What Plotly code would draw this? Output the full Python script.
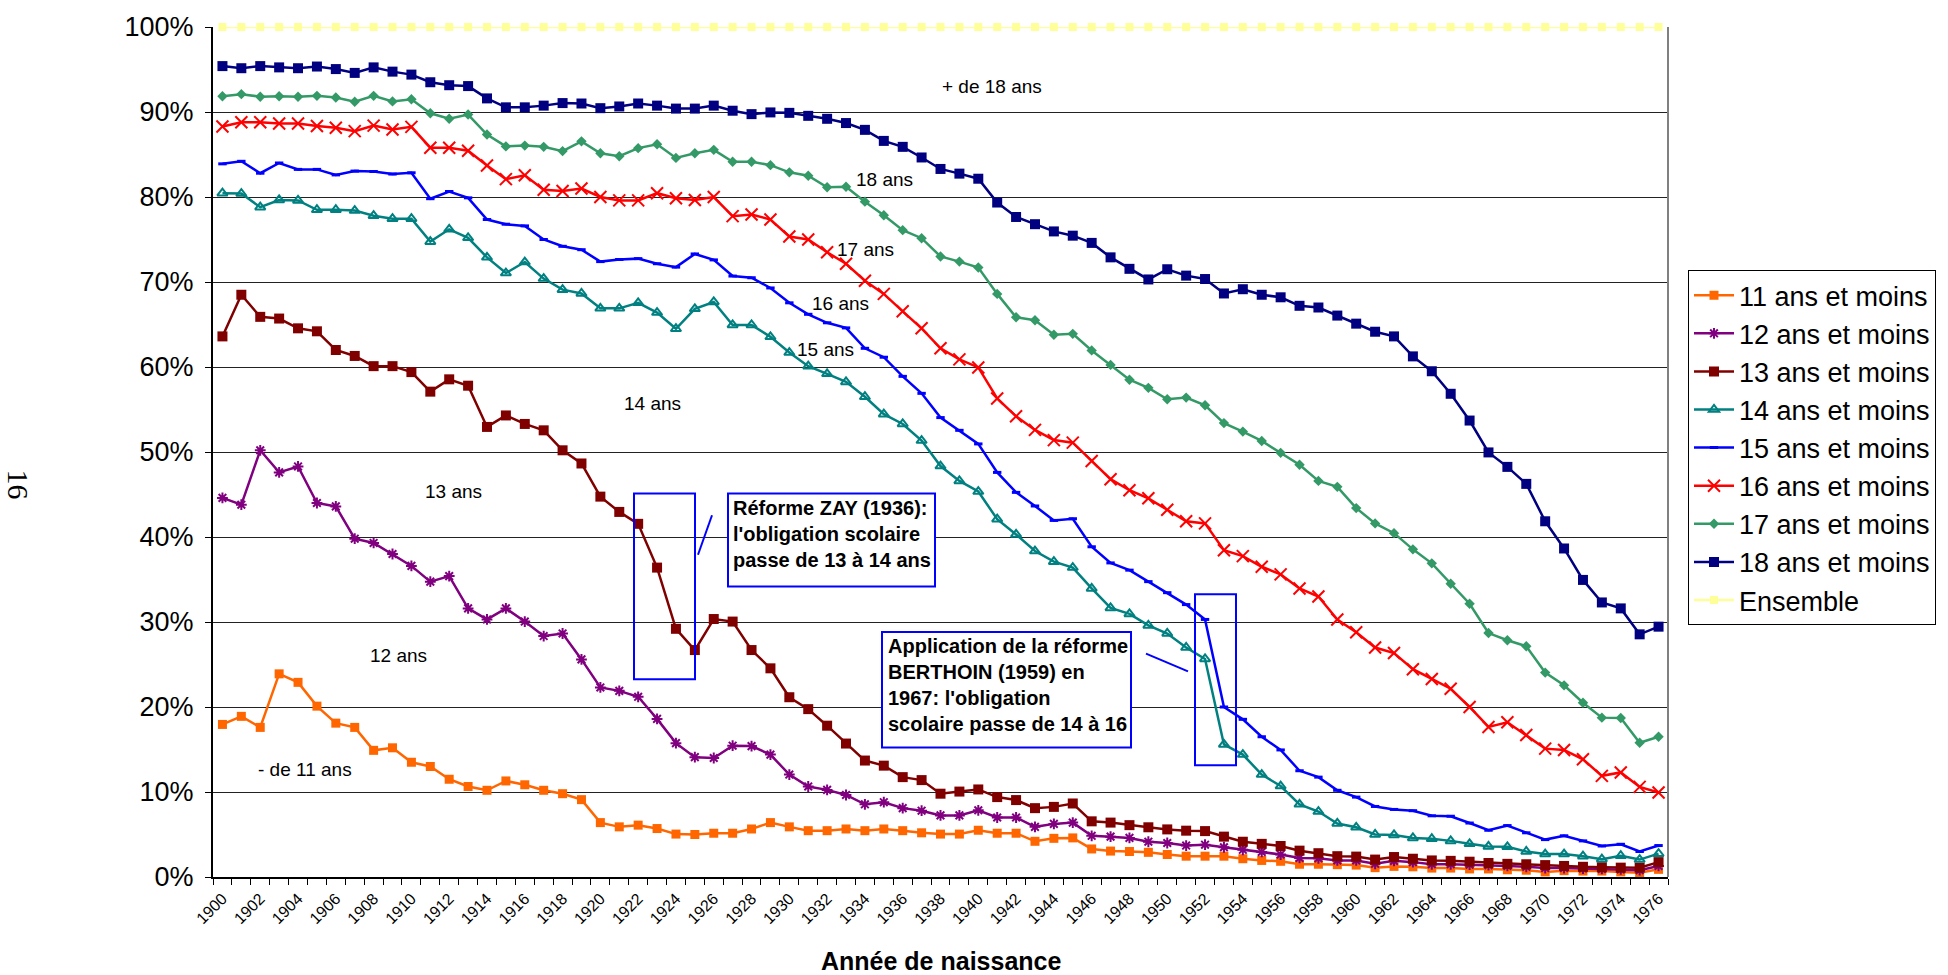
import plotly.graph_objects as go

# ---------------- data ----------------
years = list(range(1900, 1977))
tick_years = list(range(1900, 1977, 2))
tick_labels = [str(y) for y in tick_years]
y_ticks = [0, 10, 20, 30, 40, 50, 60, 70, 80, 90, 100]
y_tick_labels = ["0%", "10%", "20%", "30%", "40%", "50%", "60%", "70%", "80%", "90%", "100%"]

s11 = [17.95, 18.9, 17.6, 23.9, 22.9, 20.1, 18.1, 17.6, 14.9, 15.2,
       13.5, 13.0, 11.5, 10.65, 10.2, 11.3, 10.85, 10.2, 9.8, 9.1,
       6.4, 5.9, 6.1, 5.7, 5.05, 5.0, 5.15, 5.15, 5.65, 6.4,
       5.9, 5.45, 5.45, 5.65, 5.45, 5.65, 5.45, 5.2, 5.05, 5.05,
       5.5, 5.15, 5.15, 4.2, 4.55, 4.6, 3.3, 3.05, 3.0, 2.9,
       2.65, 2.45, 2.45, 2.45, 2.15, 1.95, 1.85, 1.5, 1.5, 1.45,
       1.4, 1.1, 1.25, 1.2, 1.05, 1.05, 0.95, 0.95, 0.85, 0.8,
       0.6, 0.75, 0.7, 0.7, 0.6, 0.5, 0.9]

s12 = [44.6, 43.8, 50.2, 47.6, 48.3, 44.0, 43.6, 39.8, 39.3, 38.0,
       36.6, 34.75, 35.4, 31.6, 30.3, 31.6, 30.05, 28.35, 28.65, 25.6,
       22.3, 21.9, 21.2, 18.6, 15.75, 14.1, 14.0, 15.45, 15.4, 14.4,
       12.05, 10.65, 10.25, 9.65, 8.55, 8.8, 8.1, 7.8, 7.25, 7.25,
       7.85, 7.0, 7.0, 5.9, 6.25, 6.4, 4.85, 4.75, 4.6, 4.15,
       4.0, 3.7, 3.8, 3.5, 3.2, 2.95, 2.65, 2.25, 2.2, 1.95,
       1.95, 1.55, 1.9, 1.75, 1.5, 1.5, 1.45, 1.4, 1.3, 1.2,
       1.05, 1.05, 1.0, 0.95, 0.9, 0.8, 1.3]

s13 = [63.6, 68.5, 65.9, 65.7, 64.55, 64.2, 62.0, 61.3, 60.1, 60.1,
       59.4, 57.1, 58.55, 57.8, 52.95, 54.3, 53.3, 52.55, 50.2, 48.65,
       44.75, 42.95, 41.55, 36.4, 29.2, 26.7, 30.35, 30.05, 26.7, 24.55,
       21.15, 19.75, 17.8, 15.7, 13.7, 13.1, 11.75, 11.4, 9.8, 10.05,
       10.3, 9.4, 9.05, 8.1, 8.25, 8.65, 6.55, 6.4, 6.1, 5.85,
       5.6, 5.45, 5.4, 4.75, 4.15, 3.9, 3.65, 3.1, 2.8, 2.45,
       2.4, 2.05, 2.35, 2.15, 1.95, 1.9, 1.8, 1.65, 1.55, 1.5,
       1.4, 1.3, 1.2, 1.15, 1.1, 1.1, 1.75]

s14 = [80.45, 80.4, 78.8, 79.65, 79.6, 78.5, 78.5, 78.4, 77.8, 77.45,
       77.45, 74.75, 76.2, 75.2, 72.9, 71.05, 72.35, 70.4, 69.1, 68.65,
       66.9, 66.9, 67.55, 66.4, 64.5, 66.85, 67.65, 64.95, 64.95, 63.55,
       61.7, 60.1, 59.2, 58.25, 56.5, 54.45, 53.3, 51.35, 48.35, 46.6,
       45.35, 42.1, 40.3, 38.35, 37.1, 36.4, 33.95, 31.65, 30.95, 29.6,
       28.65, 27.0, 25.65, 15.6, 14.4, 12.05, 10.7, 8.55, 7.7, 6.3,
       5.85, 5.0, 4.95, 4.6, 4.5, 4.25, 3.9, 3.6, 3.55, 3.0,
       2.7, 2.7, 2.45, 2.1, 2.5, 2.05, 2.75]

s15 = [83.9, 84.2, 82.8, 84.0, 83.25, 83.25, 82.6, 83.05, 83.0, 82.7,
       82.85, 79.8, 80.65, 79.9, 77.35, 76.8, 76.6, 75.0, 74.2, 73.8,
       72.4, 72.65, 72.75, 72.15, 71.75, 73.3, 72.6, 70.7, 70.5, 69.3,
       67.55, 66.2, 65.2, 64.6, 62.2, 61.15, 58.9, 56.9, 54.05, 52.55,
       50.95, 47.6, 45.25, 43.65, 41.95, 42.15, 38.85, 36.95, 36.1, 34.75,
       33.45, 32.05, 30.3, 20.0, 18.55, 16.5, 14.95, 12.5, 11.75, 10.2,
       9.4, 8.3, 7.95, 7.8, 7.2, 7.15, 6.35, 5.5, 6.05, 5.2,
       4.4, 4.85, 4.25, 3.65, 3.85, 3.0, 3.7]

s16 = [88.3, 88.8, 88.8, 88.65, 88.65, 88.35, 88.15, 87.75, 88.4, 87.95,
       88.25, 85.8, 85.8, 85.45, 83.7, 82.1, 82.55, 80.85, 80.7, 81.0,
       80.0, 79.6, 79.6, 80.45, 79.85, 79.65, 80.0, 77.75, 77.95, 77.35,
       75.35, 75.0, 73.5, 72.15, 70.15, 68.6, 66.55, 64.55, 62.2, 60.9,
       59.95, 56.3, 54.2, 52.6, 51.4, 51.1, 48.95, 46.8, 45.5, 44.55,
       43.2, 41.85, 41.6, 38.45, 37.75, 36.5, 35.6, 33.95, 33.0, 30.3,
       28.8, 27.0, 26.35, 24.45, 23.3, 22.15, 20.0, 17.65, 18.2, 16.7,
       15.1, 14.95, 13.85, 11.9, 12.3, 10.6, 9.95]

s17 = [91.85, 92.1, 91.8, 91.85, 91.8, 91.9, 91.7, 91.2, 91.9, 91.25,
       91.5, 89.85, 89.2, 89.7, 87.35, 85.95, 86.05, 85.9, 85.4, 86.55,
       85.15, 84.8, 85.75, 86.2, 84.6, 85.15, 85.55, 84.15, 84.15, 83.75,
       82.9, 82.5, 81.15, 81.2, 79.45, 77.85, 76.1, 75.15, 73.0, 72.4,
       71.7, 68.6, 65.85, 65.5, 63.8, 63.9, 61.95, 60.25, 58.5, 57.55,
       56.2, 56.4, 55.5, 53.4, 52.4, 51.3, 49.9, 48.5, 46.6, 45.9,
       43.4, 41.6, 40.45, 38.55, 36.9, 34.5, 32.15, 28.7, 27.85, 27.15,
       24.05, 22.55, 20.5, 18.75, 18.7, 15.8, 16.5]

s18 = [95.4, 95.15, 95.4, 95.25, 95.15, 95.35, 95.05, 94.6, 95.25, 94.75,
       94.4, 93.5, 93.15, 93.05, 91.6, 90.55, 90.55, 90.75, 91.05, 91.0,
       90.45, 90.65, 91.0, 90.75, 90.4, 90.4, 90.75, 90.15, 89.75, 89.95,
       89.9, 89.55, 89.2, 88.7, 87.9, 86.6, 85.9, 84.65, 83.3, 82.75,
       82.15, 79.35, 77.65, 76.8, 75.95, 75.45, 74.6, 72.9, 71.55, 70.3,
       71.5, 70.75, 70.35, 68.65, 69.15, 68.5, 68.2, 67.2, 67.0, 66.05,
       65.1, 64.15, 63.6, 61.25, 59.5, 56.85, 53.7, 49.95, 48.25, 46.25,
       41.85, 38.65, 34.95, 32.3, 31.6, 28.55, 29.45]

ensemble = [100, 100, 100, 100, 100, 100, 100, 100, 100, 100, 100,
            100, 100, 100, 100, 100, 100, 100, 100, 100, 100, 100,
            100, 100, 100, 100, 100, 100, 100, 100, 100, 100, 100,
            100, 100, 100, 100, 100, 100, 100, 100, 100, 100, 100,
            100, 100, 100, 100, 100, 100, 100, 100, 100, 100, 100,
            100, 100, 100, 100, 100, 100, 100, 100, 100, 100, 100,
            100, 100, 100, 100, 100, 100, 100, 100, 100, 100, 100]

series_names = ["11 ans et moins", "12 ans et moins", "13 ans et moins",
                "14 ans et moins", "15 ans et moins", "16 ans et moins",
                "17 ans et moins", "18 ans et moins", "Ensemble"]

zone_labels = ["+ de 18 ans", "18 ans", "17 ans", "16 ans", "15 ans",
               "14 ans", "13 ans", "12 ans", "- de 11 ans"]

# ---------------- styles ----------------
FONT = "Liberation Sans, Arial, sans-serif"
styles = [
    dict(color="#FF6600", symbol="square", size=9, lw=0),
    dict(color="#800080", symbol="asterisk-open", size=9, lw=2),
    dict(color="#800000", symbol="square", size=10, lw=0),
    dict(color="#008080", symbol="triangle-up-open", size=9, lw=2),
    dict(color="#0000FF", symbol="line-ew-open", size=6, lw=3),
    dict(color="#FF0000", symbol="x-thin-open", size=12, lw=2),
    dict(color="#339966", symbol="diamond", size=8, lw=0),
    dict(color="#000080", symbol="square", size=10, lw=0),
    dict(color="#FFFF99", symbol="square", size=8, lw=0),
]

all_series = [s11, s12, s13, s14, s15, s16, s17, s18, ensemble]

fig = go.Figure()
for name, vals, st in zip(series_names, all_series, styles):
    fig.add_trace(go.Scatter(
        x=years, y=vals, name=name, mode="lines+markers",
        legendgroup=name,
        line=dict(color=st["color"], width=2.5),
        marker=dict(symbol=st["symbol"], size=st["size"], color=st["color"],
                    line=dict(color=st["color"], width=st["lw"])),
        cliponaxis=False,
    ))

# pixel helpers (plot area: x 213..1668, y 17..877)
L, R, T, B = 213, 1668, 17, 877
def px_x(px):
    return 1899.5 + (px - L) / (R - L) * 77
def px_y(py):
    return (B - py) / (B - T) * 100

# zone labels
label_pos = [(992, 77), (884, 171), (865, 242), (840, 297), (825, 343),
             (652, 398), (453, 487), (398, 653), (305, 768)]
annotations = []
for txt, (px, py) in zip(zone_labels, label_pos):
    annotations.append(dict(x=px_x(px), y=px_y(py), xref="x", yref="y",
                            text=txt, showarrow=False,
                            font=dict(family=FONT, size=19, color="black")))

# boxed notes
annotations.append(dict(
    x=px_x(731), y=px_y(490), xref="x", yref="y", xanchor="left", yanchor="top",
    align="left", showarrow=False,
    text="<b>Réforme ZAY (1936):<br>l'obligation scolaire<br>passe de 13 à 14 ans</b>",
    font=dict(family=FONT, size=20, color="black")))
annotations.append(dict(
    x=px_x(886), y=px_y(630), xref="x", yref="y", xanchor="left", yanchor="top",
    align="left", showarrow=False,
    text="<b>Application de la réforme<br>BERTHOIN (1959) en<br>1967: l'obligation<br>scolaire passe de 14 à 16</b>",
    font=dict(family=FONT, size=20, color="black")))

# x-axis title
annotations.append(dict(x=0.5, y=(B - 962) / (B - T), xref="paper", yref="paper",
                        xanchor="center", yanchor="middle",
                        showarrow=False, text="<b>Année de naissance</b>",
                        font=dict(family=FONT, size=25, color="black")))

# page number
annotations.append(dict(x=(18 - L) / (R - L), y=(B - 480) / (B - T),
                        xref="paper", yref="paper", xanchor="center", yanchor="middle",
                        showarrow=False, text="16", textangle=90,
                        font=dict(family="Liberation Serif, Times New Roman, serif",
                                  size=30, color="black")))

shapes = [
    # ZAY rect + box + connector
    dict(type="rect", xref="x", yref="y", x0=px_x(634), x1=px_x(695),
         y0=px_y(489), y1=px_y(677), line=dict(color="#0000FF", width=2)),
    dict(type="line", xref="x", yref="y", x0=px_x(698), y0=px_y(551),
         x1=px_x(712), y1=px_y(511), line=dict(color="#0000FF", width=2)),
    dict(type="rect", xref="x", yref="y", x0=px_x(728), x1=px_x(935),
         y0=px_y(489), y1=px_y(583), fillcolor="white",
         line=dict(color="#0000FF", width=2), layer="above"),
    # BERTHOIN rect + box + connector
    dict(type="rect", xref="x", yref="y", x0=px_x(1195), x1=px_x(1236),
         y0=px_y(591), y1=px_y(764), line=dict(color="#0000FF", width=2)),
    dict(type="line", xref="x", yref="y", x0=px_x(1146), y0=px_y(651),
         x1=px_x(1188), y1=px_y(669), line=dict(color="#0000FF", width=2)),
    dict(type="rect", xref="x", yref="y", x0=px_x(882), x1=px_x(1131),
         y0=px_y(629), y1=px_y(746), fillcolor="white",
         line=dict(color="#0000FF", width=2), layer="above"),
    # right plot border
    dict(type="line", xref="paper", yref="paper", x0=1, x1=1, y0=0, y1=1,
         line=dict(color="#808080", width=2)),
]

fig.update_layout(
    width=1948, height=975,
    margin=dict(l=L, r=1948 - R, t=T, b=975 - B, pad=0),
    paper_bgcolor="white", plot_bgcolor="white",
    font=dict(family=FONT, color="black"),
    showlegend=True,
    legend=dict(x=(1688 - L) / (R - L), y=(B - 263) / (B - T),
                xanchor="left", yanchor="top",
                bordercolor="black", borderwidth=1, bgcolor="white",
                font=dict(family=FONT, size=27, color="black"),
                tracegroupgap=0, itemwidth=40),
    annotations=annotations,
    shapes=shapes,
)

fig.update_xaxes(
    range=[1899.5, 1976.5], tickmode="array", tickvals=tick_years,
    ticktext=tick_labels, tickangle=-45, ticks="",
    tickfont=dict(family=FONT, size=16, color="black"),
    ticklabelstandoff=4,
    showgrid=False, zeroline=False, showline=True, linecolor="black", linewidth=2,
    minor=dict(ticks="outside", ticklen=6, tickcolor="black", tickwidth=1,
               tick0=1899.5, dtick=1, showgrid=False),
)
fig.update_yaxes(
    range=[0, 100], tickmode="array", tickvals=y_ticks, ticktext=y_tick_labels,
    ticks="outside", ticklen=6, tickcolor="black",
    tickfont=dict(family=FONT, size=27, color="black"),
    ticklabelstandoff=6,
    showgrid=True, gridcolor="#222222", gridwidth=1, zeroline=False,
    showline=True, linecolor="black", linewidth=2,
)

fig.write_html("out.html", config={"displayModeBar": False},
               post_script="document.body.style.margin='0';document.body.style.overflow='hidden';")
